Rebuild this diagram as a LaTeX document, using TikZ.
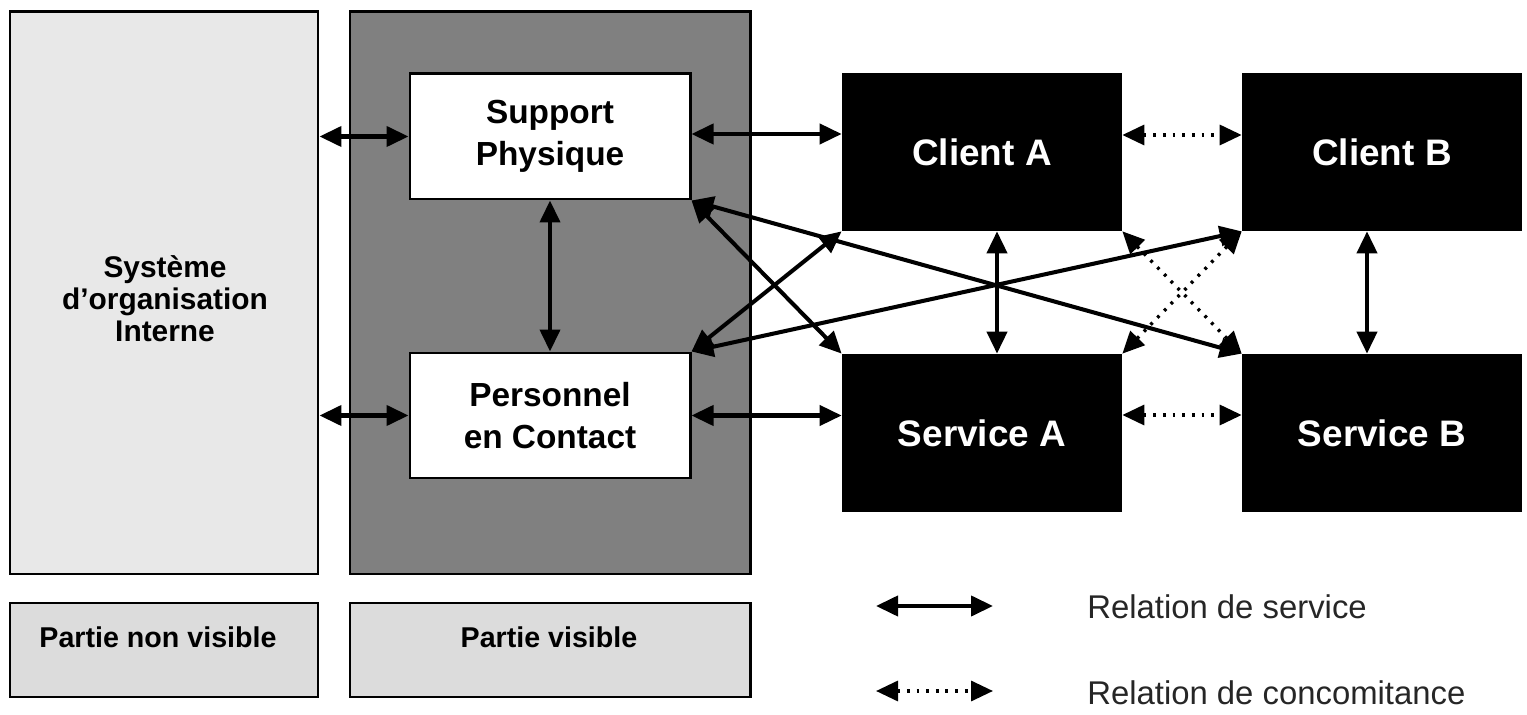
\documentclass[tikz,border=0pt]{standalone}
\usepackage{fontspec}
\setmainfont{Liberation Sans}
\usetikzlibrary{arrows.meta}
\definecolor{lightpanel}{HTML}{E8E8E8}
\definecolor{darkpanel}{HTML}{808080}
\definecolor{labelpanel}{HTML}{DCDCDC}
\definecolor{legendtext}{HTML}{262626}
\tikzset{
  panel/.style={draw=black, line width=1.7pt, inner sep=0pt},
  whitebox/.style={draw=black, line width=1.7pt, fill=white, minimum width={280*0.02cm}, minimum height={125*0.02cm}, align=center, font=\fontsize{19}{24}\selectfont\bfseries, inner sep=0pt},
  blackbox/.style={fill=black, text=white, minimum width={280*0.02cm}, minimum height={158*0.02cm}, font=\fontsize{21}{25}\selectfont\bfseries, inner sep=0pt},
  svc/.style={line width=2.3pt, {Triangle[length=0.44cm, width=0.4cm]}-{Triangle[length=0.44cm, width=0.4cm]}},
  conc/.style={line width=1.9pt, dash pattern=on 1.6pt off 3.9pt, {Triangle[length=0.44cm, width=0.4cm]}-{Triangle[length=0.44cm, width=0.4cm]}},
  lgtext/.style={anchor=west, text=legendtext, font=\fontsize{18.7}{22}\selectfont, inner sep=0pt},
  paneltext/.style={align=center, font=\fontsize{17}{18.2}\selectfont\bfseries, inner sep=0pt},
  smalltext/.style={font=\fontsize{16.3}{18}\selectfont\bfseries, inner sep=0pt}
}
\begin{document}
\begin{tikzpicture}[x=0.02cm, y=-0.02cm]
\useasboundingbox (0,0) rectangle (1527,715);
% panels
\node[panel, fill=lightpanel, minimum width={308*0.02cm}, minimum height={562*0.02cm}] (left) at (164,293) {};
\node[panel, fill=darkpanel, minimum width={400*0.02cm}, minimum height={562*0.02cm}] (dark) at (550,293) {};
\node[paneltext] (lefttext) at (165,299) {Système\\d’organisation\\Interne};
% label boxes
\node[panel, fill=labelpanel, minimum width={308*0.02cm}, minimum height={94*0.02cm}] (nvbox) at (164,650) {};
\node[panel, fill=labelpanel, minimum width={400*0.02cm}, minimum height={94*0.02cm}] (vbox) at (550,650) {};
\node[smalltext] (nvtext) at (158,637) {Partie non visible};
\node[smalltext] (vtext) at (549,637) {Partie visible};
% white boxes
\node[whitebox] (sp) at (550,136.5) {Support\\Physique};
\node[whitebox] (pc) at (550,415.5) {Personnel\\en Contact};
% black boxes
\node[blackbox] (ca) at (982,152) {Client A};
\node[blackbox] (cb) at (1382,152) {Client B};
\node[blackbox] (sa) at (982,433) {Service A};
\node[blackbox] (sb) at (1382,433) {Service B};
% vertical arrow columns
\coordinate (vca) at (997,0);
\coordinate (vcb) at (1367,0);
% service relations
\draw[svc] (left.east |- sp.west) -- (sp.west);
\draw[svc] (left.east |- pc.west) -- (pc.west);
\draw[svc] (sp.south) -- (pc.north);
\draw[svc] (sp.east |- 0,134) -- (ca.west |- 0,134);
\draw[svc] (pc.east) -- (sa.west |- pc.east);
\draw[svc] (vca |- ca.south) -- (vca |- sa.north);
\draw[svc] (vcb |- cb.south) -- (vcb |- sb.north);
\draw[svc] (sp.south east) -- (sa.north west);
\draw[svc] (pc.north east) -- (ca.south west);
\draw[svc] (sp.south east) -- (sb.north west);
\draw[svc] (pc.north east) -- (cb.south west);
% concomitance relations
\draw[conc] (ca.east |- 0,135) -- (cb.west |- 0,135);
\draw[conc] (sa.east |- 0,415) -- (sb.west |- 0,415);
\draw[conc] (ca.south east) -- (sb.north west);
\draw[conc] (sa.north east) -- (cb.south west);
% legend
\coordinate (l1a) at (876,606);
\coordinate (l1b) at (993,606);
\coordinate (l2a) at (876,691);
\coordinate (l2b) at (993,691);
\draw[svc] (l1a) -- (l1b);
\draw[conc] (l2a) -- (l2b);
\node[lgtext] (lg1) at (1087,607) {Relation de service};
\node[lgtext] (lg2) at (1087,693) {Relation de concomitance};
\end{tikzpicture}
\end{document}
